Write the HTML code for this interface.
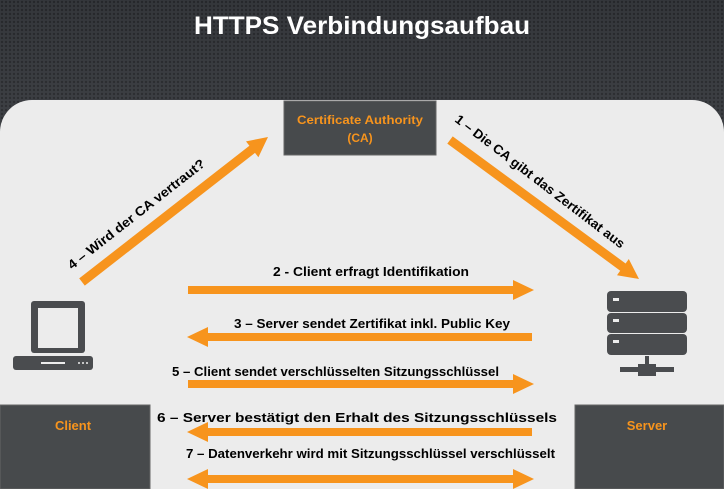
<!DOCTYPE html>
<html><head><meta charset="utf-8"><style>
html,body{margin:0;padding:0;width:724px;height:489px;overflow:hidden;background:#3b3e43}
svg{display:block;overflow:hidden}
text{font-family:"Liberation Sans",sans-serif;font-weight:bold}
</style></head><body>
<svg width="724" height="489" viewBox="0 0 724 489" xmlns="http://www.w3.org/2000/svg">
<defs>
<pattern id="dots" width="4" height="4" patternUnits="userSpaceOnUse">
<rect width="4" height="4" fill="#3d4045"/><circle cx="2" cy="2" r="1.2" fill="#2c2e32"/>
</pattern>
<linearGradient id="bg" x1="0" y1="0" x2="0" y2="1">
<stop offset="0" stop-color="#000" stop-opacity="0.15"/><stop offset="1" stop-color="#fff" stop-opacity="0.05"/>
</linearGradient>
<clipPath id="c"><rect width="724" height="489"/></clipPath>
</defs>
<g clip-path="url(#c)">
<rect width="724" height="489" fill="url(#dots)"/>
<rect width="724" height="489" fill="url(#bg)"/>
<text x="362" y="34" font-size="25" fill="#fff" text-anchor="middle" textLength="336" lengthAdjust="spacingAndGlyphs">HTTPS Verbindungsaufbau</text>
<path d="M32,100 H692 A32,32 0 0 1 724,132 V489 H0 V132 A32,32 0 0 1 32,100 Z" fill="#ececec"/>
<rect x="284" y="101" width="152" height="54" fill="#474a4c" stroke="#666" stroke-width="1"/>
<text x="360" y="124" font-size="12" fill="#f7941d" text-anchor="middle" font-weight="normal" textLength="126" lengthAdjust="spacingAndGlyphs">Certificate Authority</text>
<text x="360" y="142" font-size="12" fill="#f7941d" text-anchor="middle" font-weight="normal">(CA)</text>
<rect x="0" y="405" width="150" height="84" fill="#474a4c" stroke="#666"/>
<text x="73" y="430" font-size="13" fill="#f7941d" text-anchor="middle" font-weight="normal">Client</text>
<rect x="575" y="405" width="149" height="84" fill="#474a4c" stroke="#666"/>
<text x="647" y="430" font-size="13" fill="#f7941d" text-anchor="middle" font-weight="normal">Server</text>
<g fill="#f7941d">
<polygon points="79.2,278.4 84.8,285.6 255,152.9 258.4,157.2 268,137 246,141.4 249.4,145.7"/>
<polygon points="452.7,136.4 447.3,143.6 620.2,270.7 617,275.2 639,279 628.8,259 625.6,263.5"/>
</g>
<g fill="#f7941d">
<polygon points="188,286 513,286 513,280 534,290 513,300 513,294 188,294"/>
<polygon points="532,333 208,333 208,327 187,337 208,347 208,341 532,341"/>
<polygon points="188,380 513,380 513,374 534,384 513,394 513,388 188,388"/>
<polygon points="532,428 208,428 208,422 187,432 208,442 208,436 532,436"/>
<polygon points="208,475 513,475 513,469 534,479 513,489 513,483 208,483 208,489 187,479 208,469"/>
</g>
<g font-size="13" fill="#000">
<text x="371" y="276" text-anchor="middle" textLength="196" lengthAdjust="spacingAndGlyphs">2 - Client erfragt Identifikation</text>
<text x="372" y="328" text-anchor="middle" textLength="276" lengthAdjust="spacingAndGlyphs">3 – Server sendet Zertifikat inkl. Public Key</text>
<text x="172" y="376" textLength="327" lengthAdjust="spacingAndGlyphs">5 – Client sendet verschlüsselten Sitzungsschlüssel</text>
<text x="157" y="422" textLength="400" lengthAdjust="spacingAndGlyphs">6 – Server bestätigt den Erhalt des Sitzungsschlüssels</text>
<text x="186" y="458" textLength="369" lengthAdjust="spacingAndGlyphs">7 – Datenverkehr wird mit Sitzungsschlüssel verschlüsselt</text>
<text transform="translate(72,270) rotate(-38)" textLength="170" lengthAdjust="spacingAndGlyphs">4 – Wird der CA vertraut?</text>
<text transform="translate(454,121) rotate(37.5)" textLength="210" lengthAdjust="spacingAndGlyphs">1 – Die CA gibt das Zertifikat aus</text>
</g>
<g fill="#4a4c4f">
<rect x="31" y="301" width="54" height="52" rx="3"/>
<rect x="38" y="308" width="40" height="40" fill="#ececec"/>
<rect x="13" y="356" width="80" height="14" rx="3"/>
<rect x="41" y="362" width="24" height="2" fill="#ececec"/>
<circle cx="79" cy="363" r="1" fill="#ececec"/><circle cx="83" cy="363" r="1" fill="#ececec"/><circle cx="87" cy="363" r="1" fill="#ececec"/>
</g>
<g fill="#4a4c4f">
<rect x="607" y="291" width="80" height="21" rx="4"/>
<rect x="607" y="313" width="80" height="20" rx="4"/>
<rect x="607" y="334" width="80" height="21" rx="4"/>
<rect x="613" y="298" width="6" height="3" fill="#ececec"/>
<rect x="613" y="319" width="6" height="3" fill="#ececec"/>
<rect x="613" y="340" width="6" height="3" fill="#ececec"/>
<rect x="645" y="356" width="4" height="9"/>
<rect x="638" y="364" width="18" height="12"/>
<rect x="620" y="367" width="54" height="5"/>
</g>
</g>
</svg>
</body></html>
